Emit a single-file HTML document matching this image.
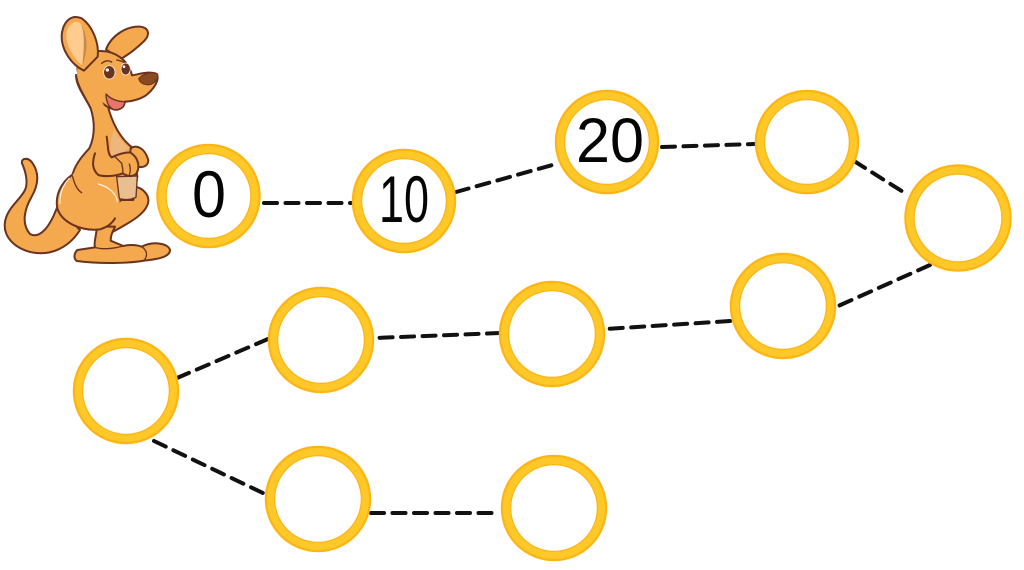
<!DOCTYPE html>
<html><head><meta charset="utf-8"><style>
html,body{margin:0;padding:0;background:#fff;width:1024px;height:570px;overflow:hidden}
svg{display:block}
text{font-family:"Liberation Sans",sans-serif;fill:#050505;text-anchor:middle}
</style></head><body>
<svg width="1024" height="570" viewBox="0 0 1024 570">
<g fill="none" stroke="#111" stroke-width="4" stroke-dasharray="13 8.500" stroke-linecap="round">
<path d="M264 203H352"/>
<path d="M456 192L556 164"/>
<path d="M662 147L754 144"/>
<path d="M854 161L908 195"/>
<path d="M930 265L836 307"/>
<path d="M730 321L606 329"/>
<path d="M500 333L375 338"/>
<path d="M268 339L177 378"/>
<path d="M154 441L265 494"/>
<path d="M371 513H500"/>
</g>
<g fill="#fff" stroke="#FDB515" stroke-width="10.500">
<circle cx="208.500" cy="196" r="47"/><circle cx="404" cy="201" r="47"/><circle cx="607" cy="142" r="47"/><circle cx="807" cy="142" r="47"/><circle cx="958" cy="218" r="48.500"/><circle cx="783" cy="306" r="48"/><circle cx="552" cy="334" r="48"/><circle cx="321" cy="340" r="48"/><circle cx="126" cy="391" r="48"/><circle cx="318" cy="499" r="48"/><circle cx="554" cy="508" r="48"/>
</g>
<g fill="none" stroke="#FFC829" stroke-width="7">
<circle cx="208.500" cy="196" r="46.500"/><circle cx="404" cy="201" r="46.500"/><circle cx="607" cy="142" r="46.500"/><circle cx="807" cy="142" r="46.500"/><circle cx="958" cy="218" r="48"/><circle cx="783" cy="306" r="47.500"/><circle cx="552" cy="334" r="47.500"/><circle cx="321" cy="340" r="47.500"/><circle cx="126" cy="391" r="47.500"/><circle cx="318" cy="499" r="47.500"/><circle cx="554" cy="508" r="47.500"/>
</g>
<text x="209" y="217" font-size="66" textLength="34" lengthAdjust="spacingAndGlyphs">0</text>
<text x="404" y="222" font-size="66" textLength="50" lengthAdjust="spacingAndGlyphs">10</text>
<text x="610" y="162" font-size="63" textLength="68" lengthAdjust="spacingAndGlyphs">20</text>
<g transform="scale(.33333)" stroke="#6A3320" stroke-width="6" stroke-linejoin="round" stroke-linecap="round" fill="#F5A94E">
<!-- far ear -->
<path d="M318 148C335 105 380 78 420 80C450 84 452 108 425 130C405 148 385 165 360 178Z"/>
<!-- tail -->
<path d="M66 490C62 474 85 470 98 490C118 520 115 555 95 590C75 625 62 670 90 702C120 718 150 680 172 620L240 690C205 745 150 768 95 757C45 745 5 710 16 660C26 620 60 600 75 570C86 545 75 510 66 490Z"/>
<!-- far leg -->
<path d="M405 560C430 565 447 585 445 605C440 640 395 665 330 700L300 660Z"/>
<!-- torso -->
<path d="M228 225C228 260 258 295 272 325C286 370 284 410 268 445C240 475 222 500 216 530L230 600L400 600L412 530L400 445C365 420 338 375 324 320Z"/>
<!-- chest -->
<path fill="#EDB67C" stroke="none" d="M342 385C352 410 370 430 388 445L350 465L335 470C328 440 334 410 342 385Z"/>
<!-- pouch -->
<path fill="#E9BE90" stroke-width="4" d="M350 530L412 528L408 592C390 600 372 600 358 596Z"/>
<!-- foot -->
<path d="M290 680C290 710 280 725 285 742L232 750C222 760 220 775 230 783C300 792 390 790 432 782C470 778 510 772 510 750C505 730 460 722 425 740C405 732 380 735 370 738L332 722C332 705 338 695 345 680Z"/>
<path fill="none" stroke-width="4" d="M425 740C440 750 445 765 432 782M285 742C310 750 345 745 370 738"/>
<!-- haunch -->
<path stroke="none" d="M216 525C180 550 165 590 172 625C185 668 245 695 300 688C345 675 365 635 358 600C345 565 315 550 285 548C262 500 240 500 216 525Z"/>
<path fill="none" d="M216 525C180 550 165 590 172 625C185 668 245 695 300 688C320 682 335 672 345 655"/>
<path fill="none" stroke="#fff" stroke-width="3" d="M295 552C325 560 350 580 352 605M208 535C188 555 178 585 180 610"/>
<!-- head -->
<path d="M232 205C240 175 265 155 300 153C345 152 385 180 396 226C420 222 450 212 470 222C480 240 460 270 435 288C415 300 395 304 375 305C372 325 355 332 340 328C320 322 300 305 285 290C260 270 235 240 232 205Z"/>
<path stroke="none" d="M232 200L300 290L322 340L268 320L230 240Z"/>
<path fill="none" d="M228 225C232 260 258 295 272 325"/>
<!-- mouth -->
<path d="M318 282C335 300 355 305 375 305C372 325 355 332 340 328C325 322 318 302 318 282Z" fill="#E8746A" stroke-width="4"/>
<!-- near ear -->
<path d="M252 212C215 195 183 150 185 105C190 62 215 42 245 55C278 78 298 130 293 170Z"/>
<path fill="#FFCB8F" stroke="none" d="M247 196C217 172 195 130 200 95C205 72 228 58 241 70C256 92 252 150 247 196Z"/>
<path fill="#C98A52" stroke="none" d="M241 70C256 92 252 150 247 196C262 160 268 110 241 70Z"/>
<!-- arm and paws -->
<path d="M392 445C410 432 435 445 445 480C445 495 432 505 415 500L390 470Z"/>
<path d="M320 410C325 440 322 462 335 472C345 468 370 455 392 458C418 475 420 505 408 522C395 532 380 528 368 520C345 530 310 530 295 525C278 510 275 490 285 460"/>
<path fill="none" stroke-width="4" d="M365 490C368 505 370 512 368 520M388 492C392 505 392 515 388 525M345 470C355 480 360 485 365 490"/>
<path fill="none" stroke-width="4" d="M218 530C224 555 232 570 245 578M350 180C365 182 378 190 385 198M305 190C315 182 325 180 335 186"/>
<!-- eyes -->
<ellipse cx="328" cy="217" rx="17" ry="20" fill="#6A3320" stroke="#fff" stroke-width="2"/>
<ellipse cx="377" cy="207" rx="14" ry="18" fill="#6A3320" stroke="#fff" stroke-width="2"/>
<circle cx="322" cy="210" r="5" fill="#fff" stroke="none"/><circle cx="372" cy="200" r="4" fill="#fff" stroke="none"/>
<!-- nose -->
<path d="M416 236C425 222 460 212 473 222C478 240 455 258 438 254C425 252 418 245 416 236Z" fill="#8A4A22" stroke-width="3"/>
</g>
</svg>
</body></html>
